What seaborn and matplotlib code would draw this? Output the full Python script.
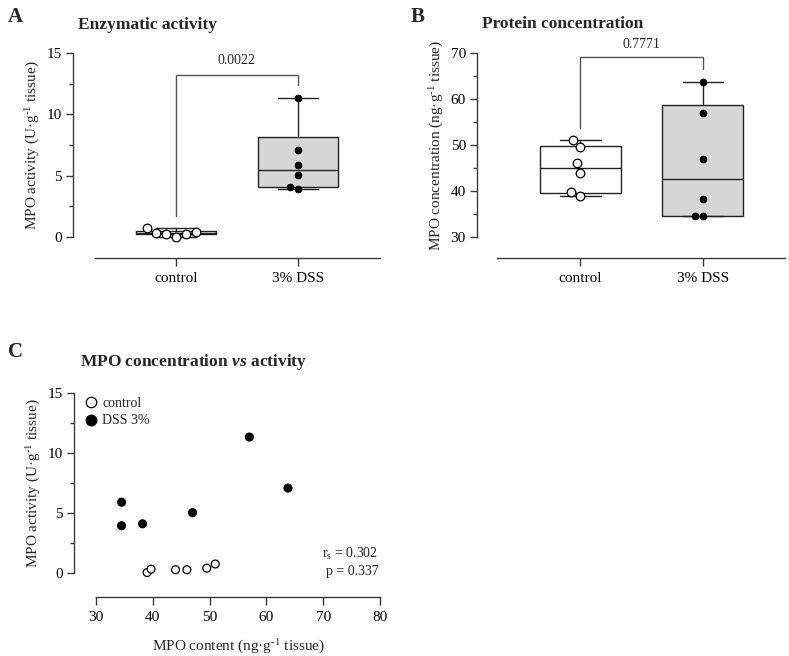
import numpy as np
import pandas as pd
import matplotlib as mpl
import matplotlib.pyplot as plt
from matplotlib.lines import Line2D
from matplotlib.ticker import MultipleLocator
import seaborn as sns

# values (6 animals per group)
groups = ['control', '3% DSS']
conc_control = [39.0, 39.7, 44.0, 46.0, 49.5, 51.0]
conc_dss = [34.5, 34.5, 38.2, 47.0, 57.0, 63.8]
act_control = [0.04, 0.32, 0.27, 0.27, 0.40, 0.75]
act_dss = [5.90, 3.94, 4.10, 5.03, 11.33, 7.08]
p_activity = '0.0022'
p_conc = '0.7771'
rs_text = 'r$\\mathregular{_s}$ = 0.302'
p_corr_text = 'p = 0.337'

sns.set_theme(style='ticks')
plt.rcParams['font.family'] = ['Liberation Serif', 'DejaVu Serif']
plt.rcParams['mathtext.fontset'] = 'custom'
plt.rcParams['mathtext.rm'] = 'Liberation Serif'
plt.rcParams['mathtext.it'] = 'Liberation Serif:italic'
plt.rcParams['mathtext.bf'] = 'Liberation Serif:bold'
plt.rcParams['mathtext.bfit'] = 'Liberation Serif:italic:bold'

SPINE = '#3a3a3a'
W, H = 789, 656
SUP = '$\\mathregular{^{\u2010' + '1}}$'  # short hyphen, like the original


# Prism draws box quartiles with the (n+1) method, numpy default is linear
_mpl_stats = mpl.cbook.boxplot_stats


def prism_boxplot_stats(X, **kws):
    stats = _mpl_stats(X, **kws)
    for s, x in zip(stats, X):
        s['q1'], s['med'], s['q3'] = np.percentile(x, [25, 50, 75], method='weibull')
    return stats


mpl.cbook.boxplot_stats = prism_boxplot_stats


def px_axes(fig, left, top, right, bottom):
    return fig.add_axes([left / W, 1 - bottom / H, (right - left) / W, (bottom - top) / H])


def style_axes(ax):
    for side in ['top', 'right']:
        ax.spines[side].set_visible(False)
    for side in ['left', 'bottom']:
        ax.spines[side].set_color(SPINE)
        ax.spines[side].set_linewidth(1.0)
    ax.tick_params(which='major', direction='out', length=5, width=1.0, color=SPINE,
                   labelsize=11, labelcolor='black', pad=3)
    ax.tick_params(which='minor', direction='out', length=3, width=1.0, color=SPINE)
    ax.set_facecolor('white')
    ax.grid(False)


def box_panel(ax, control, dss, ylim, yticks, minor, spine_start, ylabel):
    df = pd.DataFrame({'group': ['control'] * len(control) + ['3% DSS'] * len(dss),
                       'value': list(control) + list(dss)})
    sns.boxplot(data=df, x='group', y='value', order=groups, hue='group',
                palette={'control': 'white', '3% DSS': '#d6d6d6'}, width=0.66,
                whis=(0, 100), linecolor='#222222', linewidth=1.0, fliersize=0,
                legend=False, ax=ax)
    sns.swarmplot(x=['control'] * len(control), y=control, order=groups, color='white',
                  edgecolor='black', linewidth=0.9, size=6.2, ax=ax)
    sns.swarmplot(x=['3% DSS'] * len(dss), y=dss, order=groups, color='black',
                  edgecolor='black', linewidth=0.5, size=5, ax=ax)
    ax.set_xlim(-0.844, 1.672)
    ax.set_ylim(*ylim)
    ax.set_yticks(yticks)
    ax.yaxis.set_minor_locator(MultipleLocator(minor))
    ax.spines['left'].set_bounds(yticks[0], yticks[-1])
    ax.spines['bottom'].set_bounds(spine_start, 1.672)
    ax.set_xlabel('')
    ax.set_ylabel(ylabel, fontsize=11)
    ax.yaxis.set_label_coords(-0.102, 0.551)
    style_axes(ax)
    ax.tick_params(axis='x', length=6, pad=4)


fig = plt.figure(figsize=(W / 100, H / 100), dpi=100)

# A: enzymatic activity
axA = px_axes(fig, 73, 53, 380, 258)
box_panel(axA, act_control, act_dss, (-1.71, 15), [0, 5, 10, 15], 2.5, -0.664,
          'MPO activity (U·g' + SUP + ' tissue)')
axA.plot([0, 0, 1, 1], [1.7, 13.2, 13.2, 12.4], color='#555555', lw=1.0, clip_on=False)
axA.text(0.5, 13.85, p_activity, ha='center', va='bottom', fontsize=10)

# B: protein concentration
axB = px_axes(fig, 477, 53, 785, 258)
box_panel(axB, conc_control, conc_dss, (25.43, 70), [30, 40, 50, 60, 70], 5, -0.68,
          'MPO concentration (ng·g' + SUP + ' tissue)')
axB.plot([0, 0, 1, 1], [53.6, 69.1, 69.1, 66.5], color='#555555', lw=1.0, clip_on=False)
axB.text(0.5, 70.5, p_conc, ha='center', va='bottom', fontsize=10)

# C: concentration vs activity
axC = px_axes(fig, 74, 393, 380, 597)
dfC = pd.DataFrame({'conc': conc_control + conc_dss,
                    'act': act_control + act_dss,
                    'group': ['control'] * len(conc_control) + ['DSS 3%'] * len(conc_dss)})
sns.scatterplot(data=dfC, x='conc', y='act', hue='group',
                palette={'control': 'white', 'DSS 3%': 'black'}, edgecolor='black',
                linewidth=0.9, s=32, legend=False, ax=axC)
axC.set_xlim(26.13, 80)
axC.set_ylim(-2.0, 15)
axC.set_xticks([30, 40, 50, 60, 70, 80])
axC.set_yticks([0, 5, 10, 15])
axC.yaxis.set_minor_locator(MultipleLocator(2.5))
axC.spines['left'].set_bounds(0, 15)
axC.spines['bottom'].set_bounds(30, 80)
axC.set_xlabel('MPO content (ng·g' + SUP + ' tissue)', fontsize=11)
axC.set_ylabel('MPO activity (U·g' + SUP + ' tissue)', fontsize=11)
axC.xaxis.set_label_coords(0.536, -0.2)
axC.yaxis.set_label_coords(-0.102, 0.559)
style_axes(axC)
axC.tick_params(axis='x', length=6, pad=4)
handles = [Line2D([], [], ls='', marker='o', ms=7.5, mfc='white', mec='black', mew=0.9),
           Line2D([], [], ls='', marker='o', ms=7.5, mfc='black', mec='black')]
axC.legend(handles, ['control', 'DSS 3%'], loc='upper left', bbox_to_anchor=(0.01, 1.01),
           frameon=False, fontsize=10, handletextpad=0.2, labelspacing=0.35,
           handlelength=1.2, borderaxespad=0)
axC.text(0.995, 0.211, rs_text, transform=axC.transAxes, ha='right', va='center', fontsize=10)
axC.text(0.995, 0.127, p_corr_text, transform=axC.transAxes, ha='right', va='center', fontsize=10)

# panel letters and titles
fig.text(8 / W, 1 - 17 / H, 'A', fontsize=15, fontweight='bold', va='center')
fig.text(411 / W, 1 - 17 / H, 'B', fontsize=15, fontweight='bold', va='center')
fig.text(8 / W, 1 - 352 / H, 'C', fontsize=15, fontweight='bold', va='center')
fig.text(78 / W, 1 - 25 / H, 'Enzymatic activity', fontsize=12.5, fontweight='bold', va='center')
fig.text(482 / W, 1 - 24 / H, 'Protein concentration', fontsize=12.5, fontweight='bold',
         va='center')
fig.text(80 / W, 1 - 362 / H, 'MPO concentration $\\mathbfit{vs}$ activity', fontsize=12.5,
         fontweight='bold', va='center')

fig.savefig('out.png', dpi=100, facecolor='white')
